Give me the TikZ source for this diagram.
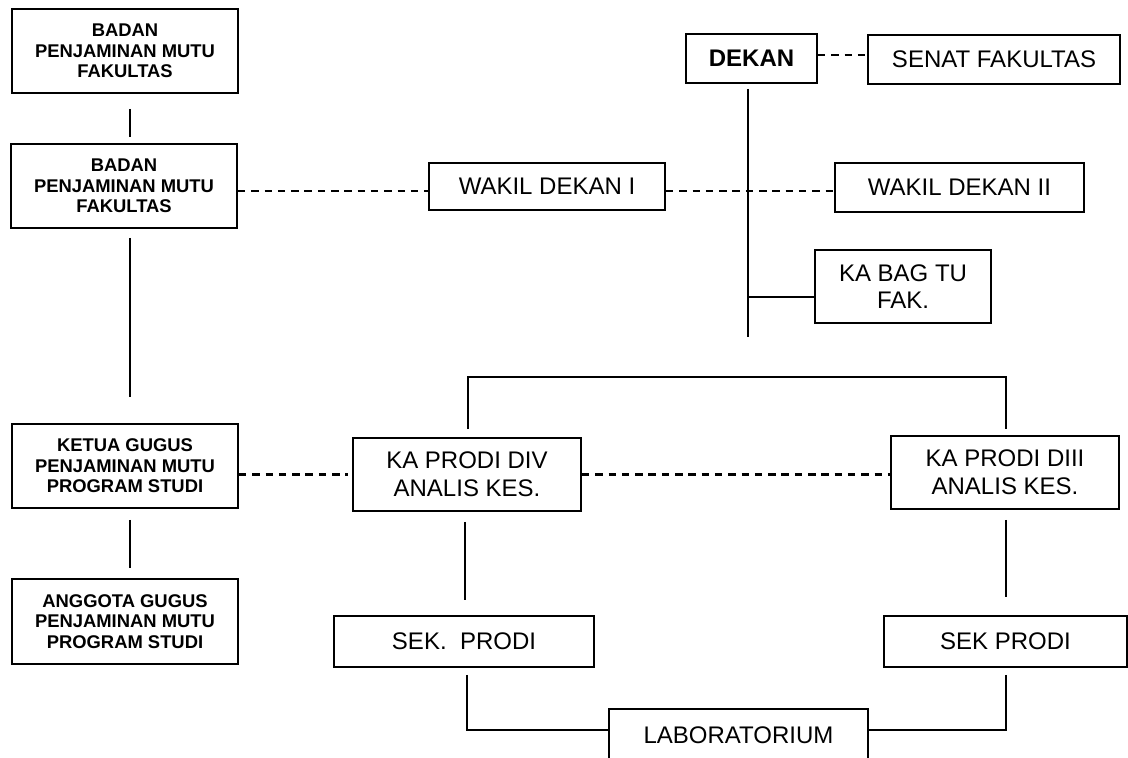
\documentclass[tikz,border=0pt]{standalone}
\usepackage{fontspec}
\setmainfont{Liberation Sans}
\usetikzlibrary{calc}
\begin{document}
\begin{tikzpicture}[x=0.5pt,y=-0.5pt, line width=0.95pt,
  box/.style={draw, inner sep=0pt, align=center, font=\fontsize{12}{13.8}\selectfont},
  sbox/.style={draw, inner sep=0pt, align=center, font=\fontsize{9.2}{10.2}\selectfont\bfseries},
  dline/.style={line width=1.1pt, dash pattern=on 3.75pt off 2.9pt}]
\useasboundingbox (0,0) rectangle (1128,758);
\fill[white] (0,0) rectangle (1128,758);
% left column
\node[sbox, minimum width=113pt, minimum height=42pt] (b1) at (125,51) {BADAN\\PENJAMINAN MUTU\\FAKULTAS};
\node[sbox, minimum width=113pt, minimum height=42pt] (b2) at (124,186) {BADAN\\PENJAMINAN MUTU\\FAKULTAS};
\node[sbox, minimum width=113pt, minimum height=42pt] (ketua) at (125,466) {KETUA GUGUS\\PENJAMINAN MUTU\\PROGRAM STUDI};
\node[sbox, minimum width=113pt, minimum height=42.5pt] (angg) at (125,621.5) {ANGGOTA GUGUS\\PENJAMINAN MUTU\\PROGRAM STUDI};
% top right
\node[box, font=\fontsize{12}{13.8}\selectfont\bfseries, minimum width=65.5pt, minimum height=24.5pt] (dekan) at (751.5,58.5) {DEKAN};
\node[box, minimum width=126pt, minimum height=24.5pt] (senat) at (994,59.5) {SENAT FAKULTAS};
\node[box, minimum width=118pt, minimum height=23.5pt] (w1) at (547,186.5) {WAKIL DEKAN I};
\node[box, minimum width=124.5pt, minimum height=24.5pt] (w2) at (959.5,187.5) {WAKIL DEKAN II};
\node[box, minimum width=88pt, minimum height=36.5pt] (ktu) at (903,286.5) {KA BAG TU\\FAK.};
% prodi
\node[box, minimum width=114pt, minimum height=36.5pt] (div) at (467,474.5) {KA PRODI DIV\\ANALIS KES.};
\node[box, minimum width=114pt, minimum height=36.5pt] (d3) at (1005,472.5) {KA PRODI DIII\\ANALIS KES.};
\node[box, minimum width=130pt, minimum height=25.5pt] (sek1) at (464,641.5) {SEK.\ \ PRODI};
\node[box, minimum width=121.5pt, minimum height=25.5pt] (sek2) at (1005.5,641.5) {SEK PRODI};
\node[box, minimum width=129.5pt, minimum height=26pt] (lab) at (738.5,735) {LABORATORIUM};
% helper coordinates
\coordinate (cL) at (130,0);
\coordinate (cD) at (748,0);
\coordinate (dEnd) at (748,337);
% left column connectors
\draw ($(b1.south -| cL)+(0,15)$) -- ($(b2.north -| cL)+(0,-6)$);
\draw ($(b2.south -| cL)+(0,9)$) -- ($(ketua.north -| cL)+(0,-26)$);
\draw ($(ketua.south -| cL)+(0,11)$) -- ($(angg.north -| cL)+(0,-10)$);
% dashed staff lines
\draw[dline] ([yshift=-2.5pt]b2.east) -- ([yshift=-2.25pt]w1.west);
\draw[dline] ([yshift=-2.25pt]w1.east) -- ([yshift=-1.75pt]w2.west);
\draw[dline] ([yshift=1.75pt]dekan.east) -- ([yshift=2.25pt]senat.west);
\draw[dline] (ketua.east |- div.west) -- ($(div.west)+(-4,0)$);
\draw[dline] (div.east) -- (d3.west |- div.east);
% dekan line
\draw ($(dekan.south -| cD)+(0,5)$) -- (dEnd);
\draw ([yshift=-5.25pt]ktu.west) -- ([yshift=-5.25pt]ktu.west -| cD);
% bracket over prodi
\draw ($(div.north)+(1,-8)$) -- ++(0,-52) -| ($(d3.north)+(1,-6)$);
% prodi to sek
\draw ($(div.south)+(-2,10)$) -- ($(sek1.north)+(1,-15)$);
\draw ($(d3.south)+(1,10)$) -- ($(sek2.north)+(0.5,-18)$);
% sek to lab
\draw ($(sek1.south)+(3,7)$) |- ([yshift=2.5pt]lab.west);
\draw ($(sek2.south)+(0.5,7)$) |- ([yshift=2.5pt]lab.east);
\end{tikzpicture}
\end{document}
